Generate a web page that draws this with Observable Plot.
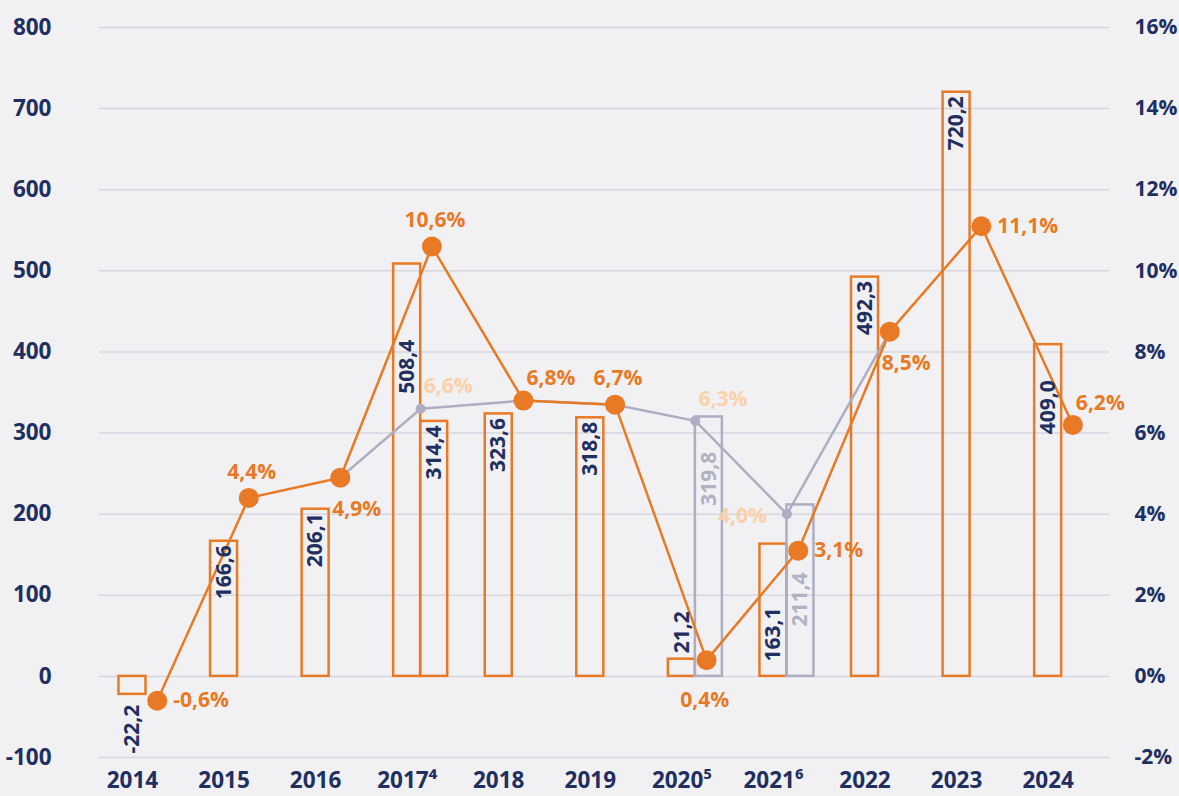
<!DOCTYPE html>
<html>
<head>
<meta charset="utf-8">
<script src="https://cdn.jsdelivr.net/npm/d3@7"></script>
<script src="https://cdn.jsdelivr.net/npm/@observablehq/plot@0.6"></script>
<style>
  html, body { margin: 0; padding: 0; background: #f1f1f4; }
  #chart { width: 1179px; height: 796px; overflow: hidden; }
</style>
</head>
<body>
<div id="chart"></div>
<script>
// ---- data ----
const years = [2014, 2015, 2016, 2017, 2018, 2019, 2020, 2021, 2022, 2023, 2024];
const yearLabels = ["2014", "2015", "2016", "2017⁴", "2018", "2019", "2020⁵", "2021⁶", "2022", "2023", "2024"];

// bars (left axis)
const barYears  = [2014, 2015, 2016, 2017, 2017, 2018, 2019, 2020, 2020, 2021, 2021, 2022, 2023, 2024];
const barValues = [-22.2, 166.6, 206.1, 508.4, 314.4, 323.6, 318.8, 21.2, 319.8, 163.1, 211.4, 492.3, 720.2, 409.0];
const barSlot   = [0, 0, 0, 0, 1, 0, 0, 0, 1, 0, 1, 0, 0, 0];
const barSeries = ["main", "main", "main", "main", "main", "main", "main", "main", "alt", "main", "alt", "main", "main", "main"];

// growth rate (right axis, %)
const growth = [-0.6, 4.4, 4.9, 10.6, 6.8, 6.7, 0.4, 3.1, 8.5, 11.1, 6.2];
const growthLabelSide = ["right", "above", "belowRight", "above", "aboveRight", "above", "below", "right", "belowRight", "right", "aboveRight"];

// alternative growth path (grey)
const altYears  = [2016, 2017, 2018, 2019, 2020, 2021, 2022];
const altGrowth = [4.9, 6.6, 6.8, 6.7, 6.3, 4.0, 8.5];
const altShown  = [false, true, false, false, true, true, false];
const altLabelSide = [null, "aboveRight", null, null, "aboveRight", "left", null];

// ---- layout helpers (not data) ----
const ORANGE = "#e97a25", NAVY = "#1f2f5f", GREY = "#aeadc2", GREYTXT = "#b3b2c5", PEACH = "#fcd0a8", GRID = "#d6d6e0";
const W = 0.295;        // bar width in year units
const DOT = 0.27;       // line point offset in year units
const barLabelAt = [-30, null, null, 420, null, null, null, "above", 282, 90, 133, null, null, 370];
const fmt = v => (v < 0 ? "-" : "") + Math.abs(v).toFixed(1).replace(".", ",");
const PCT = 50;         // 1% on right axis == 50 units on left axis
const AX = 22.5, AXR = 21, LB = 21;

const bars = barYears.map((y, i) => ({
  year: y, value: barValues[i], slot: barSlot[i], series: barSeries[i], at: barLabelAt[i],
  cx: y + barSlot[i] * W
}));
const main = years.map((y, i) => ({year: y, p: growth[i], side: growthLabelSide[i], x: y + DOT}));
const alt = altYears.map((y, i) => ({
  year: y, p: altGrowth[i], shown: altShown[i], side: altLabelSide[i],
  x: altShown[i] ? y + W / 2 : y + DOT
}));

const sides = {
  right:      {textAnchor: "start",  dx: 16,  dy: 0},
  left:       {textAnchor: "end",    dx: -20, dy: 2},
  above:      {textAnchor: "middle", dx: 3,   dy: -26},
  aboveRight: {textAnchor: "start",  dx: 3,   dy: -22},
  below:      {textAnchor: "middle", dx: -2,  dy: 40},
  belowRight: {textAnchor: "start",  dx: -8,  dy: 32}
};
const pctMarks = (data, color) => Object.entries(sides).map(([k, o]) =>
  Plot.text(data.filter(d => d.side === k), {
    x: "x", y: d => d.p * PCT, text: d => fmt(d.p) + "%",
    fill: color, fontSize: LB, fontWeight: 700, ...o
  })
);

const ticks = d3.range(-100, 801, 100);

const chart = Plot.plot({
  width: 1179, height: 796,
  marginLeft: 99, marginRight: 70, marginTop: 27, marginBottom: 39,
  x: {type: "linear", domain: [2013.64, 2024.67], label: null},
  y: {domain: [-100, 800], label: null},
  style: {background: "#f1f1f4", color: NAVY, fontFamily: "'Open Sans', sans-serif", fontSize: "20px", fontWeight: 700, overflow: "visible"},
  marks: [
    Plot.ruleY(ticks, {stroke: GRID, strokeWidth: 1.5}),
    Plot.axisY({anchor: "left", label: null, ticks, tickSize: 0, tickPadding: 48, tickFormat: d => String(d).replace("−", "-"), fontSize: AX, fontWeight: 700}),
    Plot.axisY({anchor: "right", label: null, ticks, tickSize: 0, tickPadding: 25, tickFormat: d => (d / PCT) + "%", fontSize: AXR, fontWeight: 700}),
    Plot.axisX({label: null, ticks: years, tickSize: 0, tickPadding: 15, tickFormat: d => yearLabels[years.indexOf(d)], fontSize: AX, fontWeight: 700}),
    // bars
    Plot.rect(bars, {
      x1: d => d.cx - W / 2, x2: d => d.cx + W / 2, y1: 0, y2: "value",
      fill: "none", stroke: d => d.series === "alt" ? GREY : ORANGE, strokeWidth: 2.5
    }),
    // lines
    Plot.line(alt, {x: "x", y: d => d.p * PCT, stroke: GREY, strokeWidth: 2.5}),
    Plot.line(main, {x: "x", y: d => d.p * PCT, stroke: ORANGE, strokeWidth: 2.5}),
    Plot.dot(alt.filter(d => d.shown), {x: "x", y: d => d.p * PCT, r: 5, fill: GREY}),
    Plot.dot(main, {x: "x", y: d => d.p * PCT, r: 10, fill: ORANGE}),
    // bar value labels
    Plot.text(bars.filter(d => d.at !== "above"), {
      x: "cx", y: d => d.at == null ? d.value : d.at, text: d => fmt(d.value),
      rotate: -90, textAnchor: "end", dy: 4,
      fill: d => d.series === "alt" ? GREYTXT : NAVY, fontSize: LB, fontWeight: 700
    }),
    Plot.text(bars.filter(d => d.at === "above"), {
      x: "cx", y: "value", text: d => fmt(d.value),
      rotate: -90, textAnchor: "start", dy: -6,
      fill: NAVY, fontSize: LB, fontWeight: 700
    }),
    ...pctMarks(alt.filter(d => d.shown), PEACH),
    ...pctMarks(main, ORANGE)
  ]
});
document.getElementById("chart").appendChild(chart);
</script>
</body>
</html>
